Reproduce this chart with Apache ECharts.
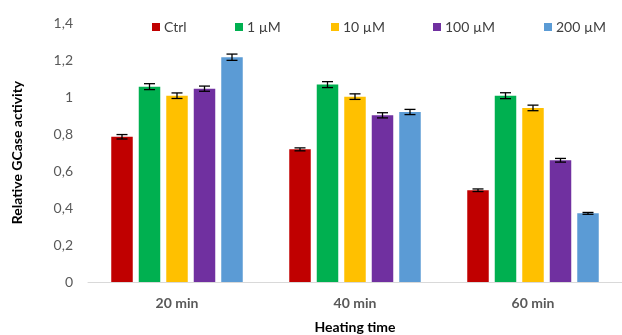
<!DOCTYPE html>
<html><head><meta charset="utf-8">
<script src="https://cdn.jsdelivr.net/npm/echarts@6/dist/echarts.min.js"></script>
<style>html,body{margin:0;padding:0;background:#fff}#c{width:622px;height:335px}</style>
</head><body><div id="c"></div>
<script>
var categories = ['20 min', '40 min', '60 min'];
var seriesNames = ['Ctrl', '1 µM', '10 µM', '100 µM', '200 µM'];
var ctrl = [0.785, 0.717, 0.496];
var um1 = [1.056, 1.067, 1.007];
var um10 = [1.007, 1.002, 0.941];
var um100 = [1.045, 0.901, 0.658];
var um200 = [1.215, 0.919, 0.371];
var errCtrl = [0.012, 0.008, 0.007];
var err1 = [0.016, 0.016, 0.016];
var err10 = [0.015, 0.015, 0.015];
var err100 = [0.014, 0.014, 0.010];
var err200 = [0.017, 0.014, 0.005];
var yTicks = ['0', '0,2', '0,4', '0,6', '0,8', '1', '1,2', '1,4'];

var values = [ctrl, um1, um10, um100, um200];
var errors = [errCtrl, err1, err10, err100, err200];
var colors = ['#C00000', '#00B050', '#FFC000', '#7030A0', '#5B9BD5'];
var legendLeft = [147, 230, 326, 428, 539];
var BW = 21.5, GAP = 6;

var series = [];
seriesNames.forEach(function (n, i) {
  series.push({
    name: n, type: 'bar', data: values[i], barWidth: BW, barGap: (GAP / BW * 100) + '%',
    itemStyle: { color: colors[i] }
  });
});
seriesNames.forEach(function (n, i) {
  var d = values[i].map(function (v, k) { return [k, v, errors[i][k]]; });
  series.push({
    type: 'custom', name: n + ' err', data: d, z: 10,
    renderItem: function (params, api) {
      var off = (i - 2) * (BW + GAP);
      var v = api.value(1), e = api.value(2);
      var hi = api.coord([api.value(0), v + e]);
      var lo = api.coord([api.value(0), v - e]);
      var x = hi[0] + off, c = 5.5;
      var st = { stroke: '#000', lineWidth: 1.3 };
      return { type: 'group', children: [
        { type: 'line', shape: { x1: x, y1: hi[1], x2: x, y2: lo[1] }, style: st },
        { type: 'line', shape: { x1: x - c, y1: hi[1], x2: x + c, y2: hi[1] }, style: st },
        { type: 'line', shape: { x1: x - c, y1: lo[1], x2: x + c, y2: lo[1] }, style: st }
      ]};
    }
  });
});

var legends = seriesNames.map(function (n, i) {
  return {
    data: [n], left: legendLeft[i], top: 15, itemWidth: 8, itemHeight: 8, icon: 'rect',
    itemGap: 4, textStyle: { fontFamily: 'Lato', fontSize: 14, color: '#404040', padding: [0, 0, 0, -1] }
  };
});

var chart = echarts.init(document.getElementById('c'), null, { renderer: 'canvas' });
chart.setOption({
  animation: false,
  legend: legends,
  grid: { left: 88, right: 0, top: 23, bottom: 53, containLabel: false, outerBoundsMode: 'none' },
  xAxis: {
    type: 'category', data: categories,
    axisLine: { lineStyle: { color: '#D9D9D9', width: 1 } },
    axisTick: { show: false },
    axisLabel: { fontFamily: 'Lato', fontWeight: 'bold', fontSize: 14, color: '#595959', margin: 14 },
    name: 'Heating time', nameLocation: 'middle', nameGap: 38,
    nameTextStyle: { fontFamily: 'Lato', fontWeight: 'bold', fontSize: 14, color: '#000' }
  },
  yAxis: {
    type: 'value', min: 0, max: 1.4, interval: 0.2,
    axisLine: { show: false }, axisTick: { show: false }, splitLine: { show: false },
    axisLabel: { fontFamily: 'Lato', fontSize: 14, color: '#595959', margin: 15,
      formatter: function (v) { return yTicks[Math.round(v / 0.2)]; } },
    name: 'Relative GCase activity', nameLocation: 'middle', nameGap: 64,
    nameTextStyle: { fontFamily: 'Lato', fontWeight: 'bold', fontSize: 14, color: '#000' }
  },
  series: series
});
</script></body></html>
